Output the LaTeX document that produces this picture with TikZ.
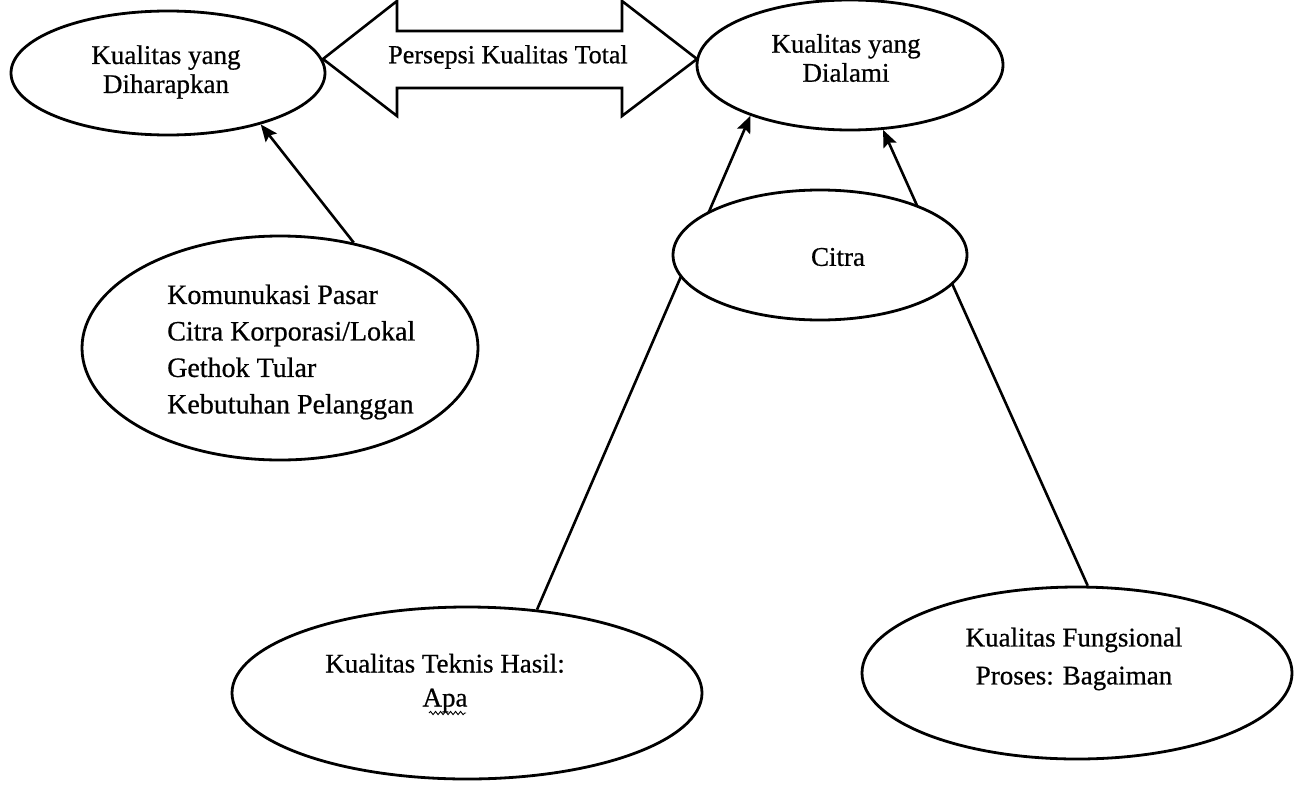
\documentclass[tikz,border=0pt]{standalone}
\usepackage{fontspec}
\setmainfont{Liberation Serif}[FakeBold=0.6]
\usetikzlibrary{shapes.geometric,arrows.meta,decorations.pathmorphing}
\begin{document}
\begin{tikzpicture}[x=1pt,y=-1pt,
  oval/.style={draw, ellipse, line width=2.8pt, fill=white, inner sep=0pt},
  lbl/.style={align=center, inner sep=0pt, font=\fontsize{27}{29}\selectfont},
  link/.style={line width=2.6pt, -{Stealth[length=17pt,width=14pt,inset=3pt]}},
  bigarrow/.style={draw, line width=2.6pt, line join=miter, fill=white}]
\useasboundingbox (0,0) rectangle (1305,784);
\fill[white] (0,0) rectangle (1305,784);

% ellipses
\node[oval, minimum width=314pt, minimum height=124pt] (harap) at (168,73) {};
\node[oval, minimum width=306pt, minimum height=130pt] (alami) at (850,65) {};
\node[oval, minimum width=396pt, minimum height=224pt] (komm) at (280,348) {};
\node[oval, minimum width=470pt, minimum height=172pt] (teknis) at (467,693) {};
\node[oval, minimum width=430pt, minimum height=172pt] (fungsi) at (1077,673) {};

% connectors
\draw[link] (komm.55) -- (harap.331.6);
\draw[link] (teknis.50.1) -- (alami.207.2);
\draw[link] (fungsi.83.4) -- (alami.297.6);

% Citra lies on top of the two long connectors
\node[oval, minimum width=294pt, minimum height=130pt] (citra) at (820,255) {};

% double arrow between the two upper ellipses
\draw[bigarrow] (323,59) -- (397,1) -- (397,31) -- (622,31) -- (622,1) -- (697,59)
  -- (622,116) -- (622,88) -- (397,88) -- (397,116) -- cycle;

% labels
\node[lbl] (tharap) at (166,72) {Kualitas yang\\Diharapkan};
\node[lbl] (talami) at (846,58) {Kualitas yang\\Dialami};
\node[lbl, font=\fontsize{26}{28}\selectfont] (tpersepsi) at (508,57) {Persepsi Kualitas Total};
\node[lbl] (tcitra) at (838,257) {Citra};
\node[lbl, align=left, anchor=west, font=\fontsize{28}{36.5}\selectfont] (tkomm) at (167,352)
  {Komunukasi Pasar\\Citra Korporasi/Lokal\\Gethok Tular\\Kebutuhan Pelanggan};
\node[lbl, font=\fontsize{27}{34}\selectfont] (tteknis) at (445,683) {Kualitas Teknis Hasil:\\Apa};
\node[lbl, font=\fontsize{27}{38}\selectfont] (tfungsi) at (1074,659) {Kualitas Fungsional\\Proses: Bagaiman};

% spelling squiggle under "Apa"
\draw[line width=0.9pt, decorate, decoration={snake, amplitude=1.6pt, segment length=5pt}]
  (429,713) -- (466,713);
\end{tikzpicture}
\end{document}
